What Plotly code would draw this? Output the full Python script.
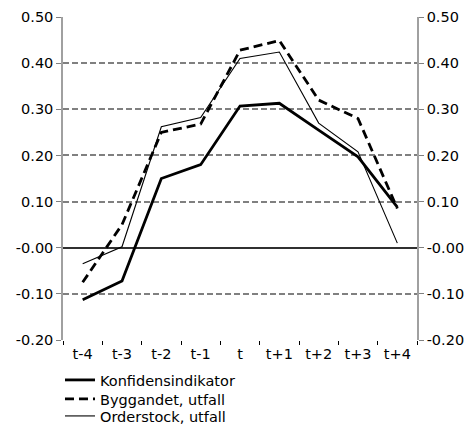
import plotly.graph_objects as go

categories = ["t-4", "t-3", "t-2", "t-1", "t", "t+1", "t+2", "t+3", "t+4"]
konfidens = [-0.113, -0.072, 0.150, 0.180, 0.307, 0.313, 0.255, 0.197, 0.088]
byggandet = [-0.075, 0.050, 0.250, 0.268, 0.428, 0.449, 0.320, 0.280, 0.085]
orderstock = [-0.035, 0.002, 0.262, 0.282, 0.410, 0.424, 0.270, 0.208, 0.010]

tick_vals = [0.5, 0.4, 0.3, 0.2, 0.1, 0.0, -0.1, -0.2]
tick_text = ["0.50", "0.40", "0.30", "0.20", "0.10", "-0.00", "-0.10", "-0.20"]

font = dict(family="DejaVu Sans", size=14.5, color="#000000")

fig = go.Figure()
fig.add_trace(go.Scatter(x=categories, y=konfidens, mode="lines", name="Konfidensindikator",
                         line=dict(color="black", width=2.8), legend="legend"))
fig.add_trace(go.Scatter(x=categories, y=byggandet, mode="lines", name="Byggandet, utfall",
                         line=dict(color="black", width=2.8, dash="9px,5px"), legend="legend2"))
fig.add_trace(go.Scatter(x=categories, y=orderstock, mode="lines", name="Orderstock, utfall",
                         line=dict(color="black", width=1.1), legend="legend3"))
fig.add_trace(go.Scatter(x=categories, y=orderstock, mode="lines", yaxis="y2",
                         line=dict(width=0), opacity=0, showlegend=False, hoverinfo="skip"))

yaxis_common = dict(range=[-0.2, 0.5], tickvals=tick_vals, ticktext=tick_text,
                    showline=True, linecolor="#a0a0a0", linewidth=1.5,
                    ticks="outside", ticklen=5, tickcolor="#808080", tickwidth=1,
                    tickfont=font, fixedrange=True, automargin=False)

leg_common = dict(xanchor="left", yanchor="middle", font=font,
                  bgcolor="rgba(0,0,0,0)", borderwidth=0, itemwidth=30)

fig.update_layout(
    width=471, height=424,
    margin=dict(l=63, r=54, t=17, b=84, autoexpand=False),
    paper_bgcolor="white", plot_bgcolor="white",
    font=font,
    xaxis=dict(type="category", tickson="boundaries", ticks="outside", ticklen=4,
               tickcolor="#000000", tickwidth=1, showgrid=False, showline=False,
               zeroline=False, tickfont=font, range=[-0.5, 8.5], automargin=False,
               ticklabelstandoff=3, fixedrange=True),
    yaxis=dict(**yaxis_common, side="left", showgrid=True, gridcolor="#808080",
               gridwidth=1.8, griddash="6px,3px", zeroline=True, zerolinecolor="#303030",
               zerolinewidth=1.5),
    yaxis2=dict(**yaxis_common, side="right", overlaying="y", anchor="x",
                showgrid=False, zeroline=False),
    legend=dict(**leg_common, x=-0.0085, y=-0.1238),
    legend2=dict(**leg_common, x=-0.0085, y=-0.1827),
    legend3=dict(**leg_common, x=-0.0085, y=-0.2353),
    showlegend=True,
)

fig.write_html("out.html", config={"displayModeBar": False},
               post_script="document.body.style.margin='0px';document.body.style.overflow='hidden';")
